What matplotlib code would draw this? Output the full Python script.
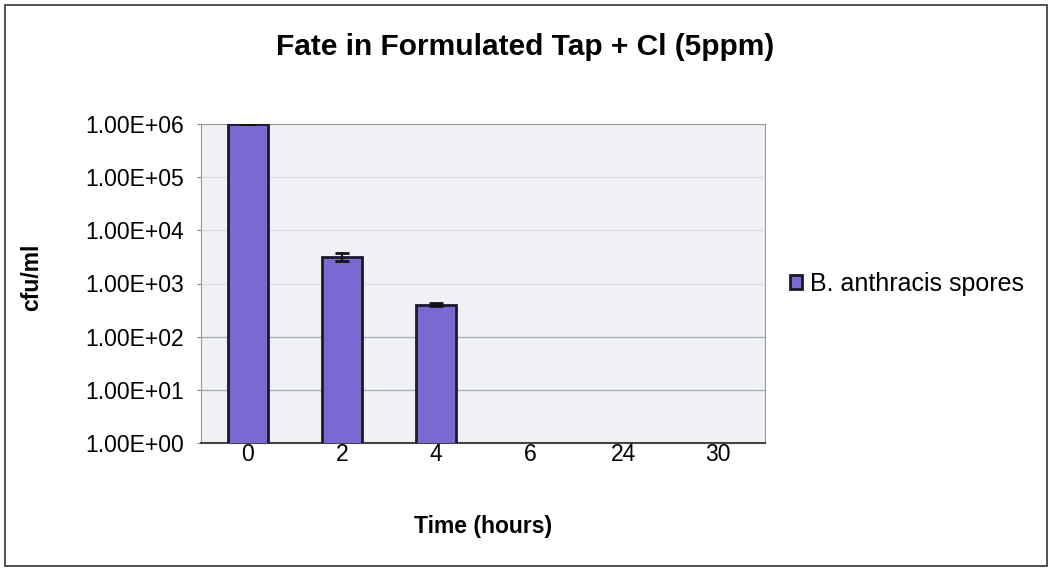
import numpy as np
import matplotlib.pyplot as plt
from matplotlib.patches import Rectangle
from matplotlib.ticker import FuncFormatter, FixedLocator

# data
times = ["0", "2", "4", "6", "24", "30"]
cfu = [1.0e6, 3.2e3, 400, np.nan, np.nan, np.nan]
cfu_err = [0, 500, 30, 0, 0, 0]
series_name = "B. anthracis spores"

plt.rcParams['font.family'] = ['Liberation Sans', 'DejaVu Sans']

fig = plt.figure(figsize=(10.51, 5.69), dpi=100)
ax = fig.add_axes([201/1051, 1-443/569, (765-201)/1051, (443-124)/569])

# outer chart border
fig.patches.append(Rectangle((5/1051, 3/569), 1042/1051, 561/569, transform=fig.transFigure,
                             fill=False, edgecolor='#333333', linewidth=1.2))

ax.set_facecolor('#eff1f5')
x = np.arange(len(times))
ax.bar(x, cfu, width=0.42, color='#7b69d1', edgecolor='#1a1a2e', linewidth=2,
       label=series_name, zorder=3)
ax.errorbar(x[:3], cfu[:3], yerr=cfu_err[:3], fmt='none', ecolor='#111111',
            elinewidth=1.5, capsize=5, capthick=2, zorder=4)

ax.set_yscale('log')
ax.set_ylim(1, 1e6)
ax.set_xlim(-0.5, len(times) - 0.5)
ax.yaxis.set_major_locator(FixedLocator([10.0**k for k in range(7)]))
ax.yaxis.set_minor_locator(FixedLocator([]))
ax.yaxis.set_major_formatter(FuncFormatter(lambda v, p: f"{v:.2E}"))
ax.grid(axis='y', color='#a9b0b3', linewidth=1, zorder=0)
# upper gridlines are barely visible in the scanned original
for i, gl in enumerate(ax.get_ygridlines()):
    if i >= 3:
        gl.set_color('#dde1e6')
ax.set_xticks(x)
ax.set_xticklabels(times)
ax.tick_params(axis='x', length=0, pad=0, labelsize=16.5)
ax.tick_params(axis='y', length=3, pad=9, labelsize=16.5, color='#888888')
for side in ['top', 'right', 'left']:
    ax.spines[side].set_color('#999999')
ax.spines['bottom'].set_color('#444444')
ax.spines['bottom'].set_linewidth(1.5)

fig.text(525/1051, 1-47/569, "Fate in Formulated Tap + Cl (5ppm)", ha='center', va='center',
         fontsize=21.5, fontweight='bold')
fig.text(483/1051, 1-527/569, "Time (hours)", ha='center', va='center',
         fontsize=16.5, fontweight='bold')
fig.text(32/1051, 1-277/569, "cfu/ml", ha='center', va='center', rotation=90,
         fontsize=16.5, fontweight='bold')

fig.legend(loc='center left', bbox_to_anchor=(767/1051, 1-284/569), frameon=False,
           fontsize=18, handlelength=0.5, handleheight=0.5, handletextpad=0.3)

fig.savefig('out.png', dpi=100)
